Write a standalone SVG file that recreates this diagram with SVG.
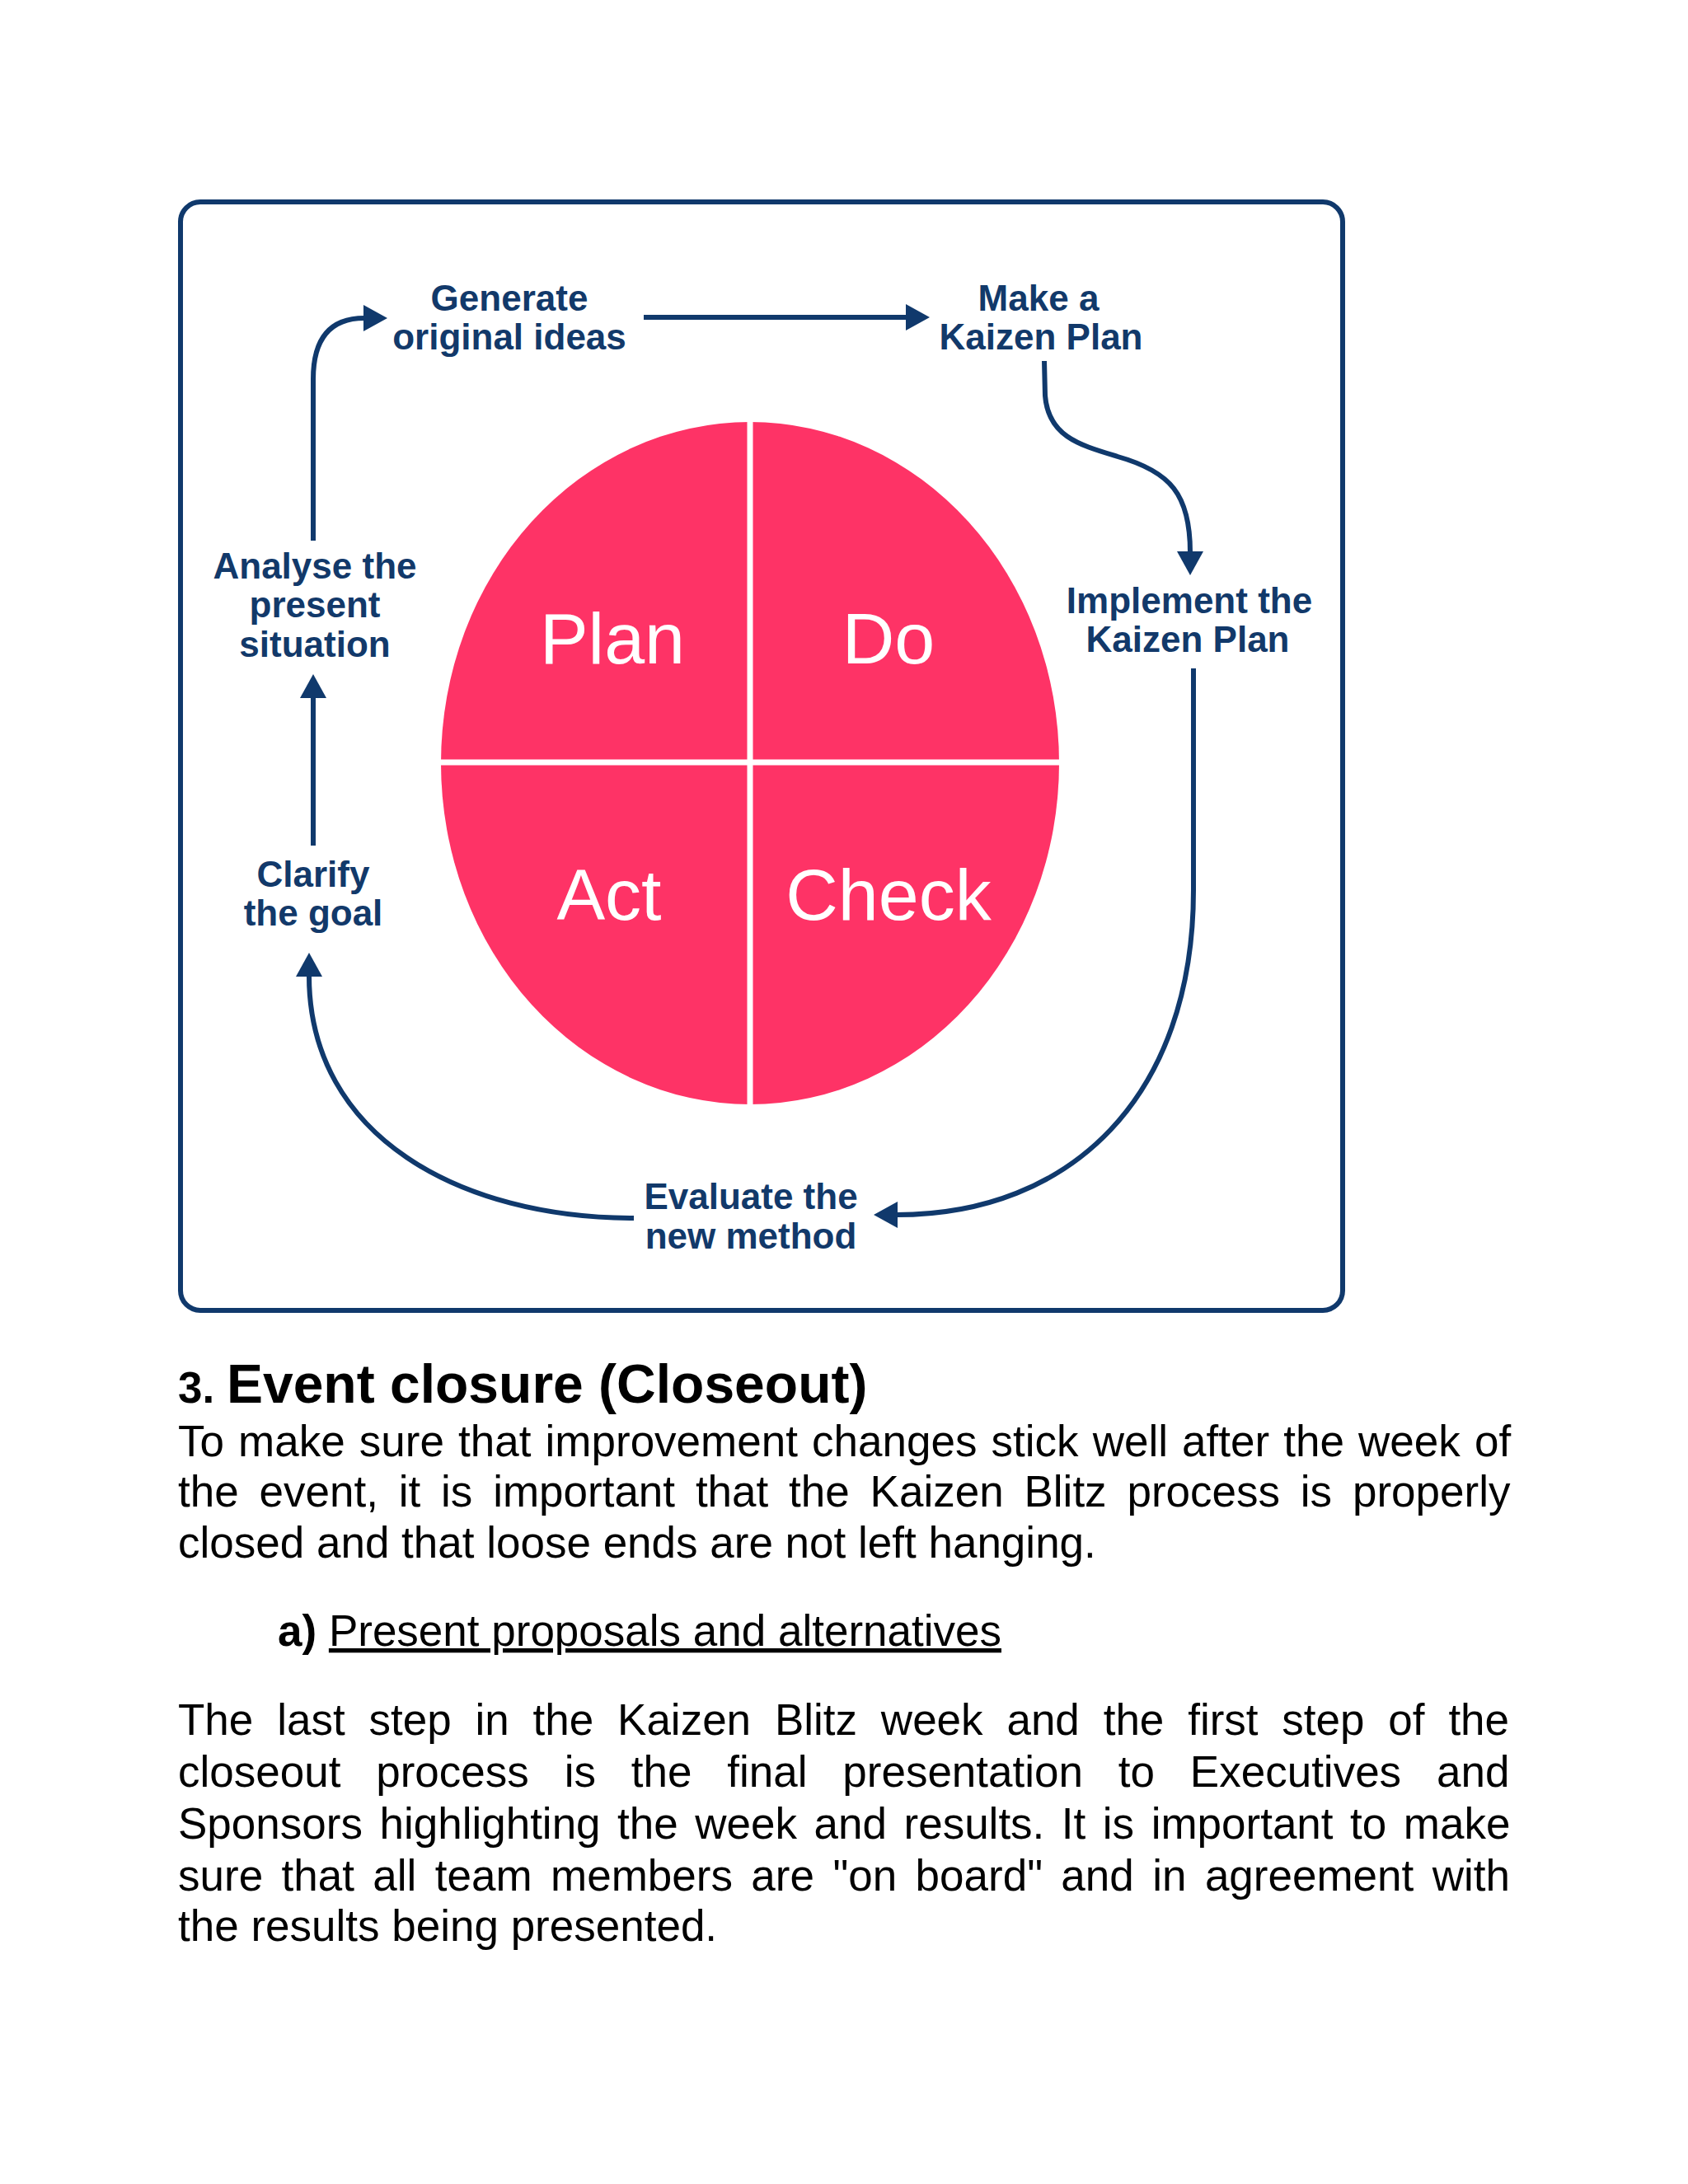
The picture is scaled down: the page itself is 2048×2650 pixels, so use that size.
<svg xmlns="http://www.w3.org/2000/svg" width="2048" height="2650" viewBox="0 0 2048 2650">
<style>
.lbl{font-family:"Liberation Sans",Arial,sans-serif;font-weight:bold;font-size:44px;fill:#12396A;text-anchor:middle}
.pdca{font-family:"Liberation Sans",Arial,sans-serif;font-size:88px;fill:#FFFFFF;text-anchor:middle}
.conn{fill:none;stroke:#10396C;stroke-width:6}
.body{font-family:"Liberation Sans",Arial,sans-serif;font-size:53px;fill:#000000}
</style>
<defs>
<marker id="ah" markerUnits="userSpaceOnUse" markerWidth="30" markerHeight="34" viewBox="0 0 30 34" refX="1" refY="17" orient="auto">
<path d="M0,1 L29,17 L0,33 z" fill="#10396C"/>
</marker>
</defs>
<rect x="0" y="0" width="2048" height="2650" fill="#FFFFFF"/>
<g id="frame">
<rect x="219" y="245" width="1410" height="1345" rx="24" ry="24" fill="#FFFFFF" stroke="#10396C" stroke-width="6"/>
</g>
<g id="pdca-wheel">
<ellipse cx="910" cy="926" rx="375" ry="414" fill="#FE3366"/>
<line x1="910" y1="505" x2="910" y2="1345" stroke="#FFFFFF" stroke-width="7"/>
<line x1="530" y1="925" x2="1290" y2="925" stroke="#FFFFFF" stroke-width="7"/>
<text class="pdca" x="743" y="805">Plan</text>
<text class="pdca" x="1078" y="805">Do</text>
<text class="pdca" x="739" y="1116">Act</text>
<text class="pdca" x="1078" y="1116">Check</text>
</g>
<g id="connectors">
<path class="conn" d="M781,385 L1100,385" marker-end="url(#ah)"/>
<path class="conn" d="M1267,438 L1268,480 C1272,530 1310,540 1356,554 C1420,572 1444,600 1444,670" marker-end="url(#ah)"/>
<path class="conn" d="M1448,811 L1448,1080 C1448,1330 1300,1474 1088,1474" marker-end="url(#ah)"/>
<path class="conn" d="M769,1478 C560,1478 375,1380 375,1184" marker-end="url(#ah)"/>
<path class="conn" d="M380,1026 L380,846" marker-end="url(#ah)"/>
<path class="conn" d="M380,656 L380,460 Q380,386 442,386" marker-end="url(#ah)"/>
</g>
<g id="node-generate">
<text class="lbl" x="618" y="377">Generate</text>
<text class="lbl" x="618" y="424">original ideas</text>
</g>
<g id="node-make-plan">
<text class="lbl" x="1260" y="377">Make a</text>
<text class="lbl" x="1263" y="424">Kaizen Plan</text>
</g>
<g id="node-implement">
<text class="lbl" x="1443" y="744">Implement the</text>
<text class="lbl" x="1441" y="791">Kaizen Plan</text>
</g>
<g id="node-evaluate">
<text class="lbl" x="911" y="1467">Evaluate the</text>
<text class="lbl" x="911" y="1515">new method</text>
</g>
<g id="node-clarify">
<text class="lbl" x="380" y="1076">Clarify</text>
<text class="lbl" x="380" y="1123">the goal</text>
</g>
<g id="node-analyse">
<text class="lbl" x="382" y="702">Analyse the</text>
<text class="lbl" x="382" y="749">present</text>
<text class="lbl" x="382" y="797">situation</text>
</g>
<g id="page-text">
<text x="216" y="1702" font-family="Liberation Sans, Arial, sans-serif" font-weight="bold" fill="#000000"><tspan font-size="53">3. </tspan><tspan font-size="66">Event closure (Closeout)</tspan></text>
<text class="body" x="216" y="1767" word-spacing="2.4">To make sure that improvement changes stick well after the week of</text>
<text class="body" x="216" y="1828" word-spacing="10.1">the event, it is important that the Kaizen Blitz process is properly</text>
<text class="body" x="216" y="1890">closed and that loose ends are not left hanging.</text>
<text class="body" x="337" y="1997"><tspan font-weight="bold">a)</tspan> <tspan text-decoration="underline">Present proposals and alternatives</tspan></text>
<text class="body" x="216" y="2105" word-spacing="14.1">The last step in the Kaizen Blitz week and the first step of the</text>
<text class="body" x="216" y="2168" word-spacing="28.1">closeout process is the final presentation to Executives and</text>
<text class="body" x="216" y="2231" word-spacing="5.8">Sponsors highlighting the week and results. It is important to make</text>
<text class="body" x="216" y="2294" word-spacing="7.7">sure that all team members are "on board" and in agreement with</text>
<text class="body" x="216" y="2355">the results being presented.</text>
</g>
</svg>
